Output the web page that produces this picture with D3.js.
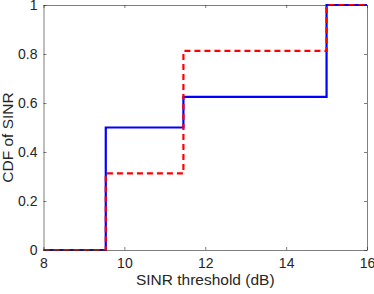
<!DOCTYPE html>
<meta charset="utf-8">
<style>
body { margin: 0; background: #fff; }
text { font-family: "Liberation Sans", Arial, sans-serif; fill: #262626; }
</style>
<svg width="374" height="294"></svg>
<script src="https://d3js.org/d3.v7.min.js"></script>
<script>

// step points (x in dB, CDF value)
var stepX = [8, 9.54, 11.46, 15, 16];
var blueY = [0, 0.5, 0.625, 1, 1];
var redY = [0, 0.3125, 0.8125, 1, 1];
var xTicks = [8, 10, 12, 14, 16];
var yTicks = [0, 0.2, 0.4, 0.6, 0.8, 1];

var svg = d3.select("svg");
var m = {left: 43.5, top: 5, right: 367, bottom: 250};

var x = d3.scaleLinear().domain([8, 16]).range([m.left, m.right]);
var y = d3.scaleLinear().domain([0, 1]).range([m.bottom, m.top]);

var line = d3.line()
    .x(function(d) { return x(d[0]); })
    .y(function(d) { return y(d[1]); })
    .curve(d3.curveStepAfter);

var g = svg.append("g");

g.append("path")
    .datum(stepX.map(function(v, i) { return [v, blueY[i]]; }))
    .attr("d", line)
    .attr("fill", "none")
    .attr("stroke", "#0000ff")
    .attr("stroke-width", 2.2);

g.append("path")
    .datum(stepX.map(function(v, i) { return [v, redY[i]]; }))
    .attr("d", line)
    .attr("fill", "none")
    .attr("stroke", "#ff0000")
    .attr("stroke-width", 2.2)
    .attr("stroke-dasharray", "6,4");

// axes, MATLAB style: ticks inside, box on
function styleAxis(sel) {
  sel.select(".domain").attr("stroke", "#262626").attr("stroke-width", 0.6);
  sel.selectAll(".tick line").attr("stroke", "#262626").attr("stroke-width", 0.6);
  sel.selectAll("text").attr("font-size", 14).attr("fill", "#262626")
     .style("font-family", "Liberation Sans, Arial, sans-serif");
}

svg.append("g").attr("transform", "translate(0," + m.bottom + ")")
    .call(d3.axisBottom(x).tickValues(xTicks).tickSizeInner(-3).tickSizeOuter(0).tickPadding(8))
    .call(styleAxis);
svg.append("g").attr("transform", "translate(0," + m.top + ")")
    .call(d3.axisTop(x).tickValues(xTicks).tickSizeInner(-3).tickSizeOuter(0).tickFormat(""))
    .call(styleAxis);
svg.append("g").attr("transform", "translate(" + m.left + ",0)")
    .call(d3.axisLeft(y).tickValues(yTicks).tickSizeInner(-3).tickSizeOuter(0).tickPadding(6).tickFormat(d3.format("~g")))
    .call(styleAxis);
svg.append("g").attr("transform", "translate(" + m.right + ",0)")
    .call(d3.axisRight(y).tickValues(yTicks).tickSizeInner(-3).tickSizeOuter(0).tickFormat(""))
    .call(styleAxis);

svg.append("text")
    .attr("x", (m.left + m.right) / 2)
    .attr("y", 285)
    .attr("text-anchor", "middle")
    .attr("font-size", 15.5)
    .text("SINR threshold (dB)");

svg.append("text")
    .attr("transform", "translate(13," + ((m.top + m.bottom) / 2 + 10) + ") rotate(-90)")
    .attr("text-anchor", "middle")
    .attr("font-size", 15.5)
    .text("CDF of SINR");

</script>
